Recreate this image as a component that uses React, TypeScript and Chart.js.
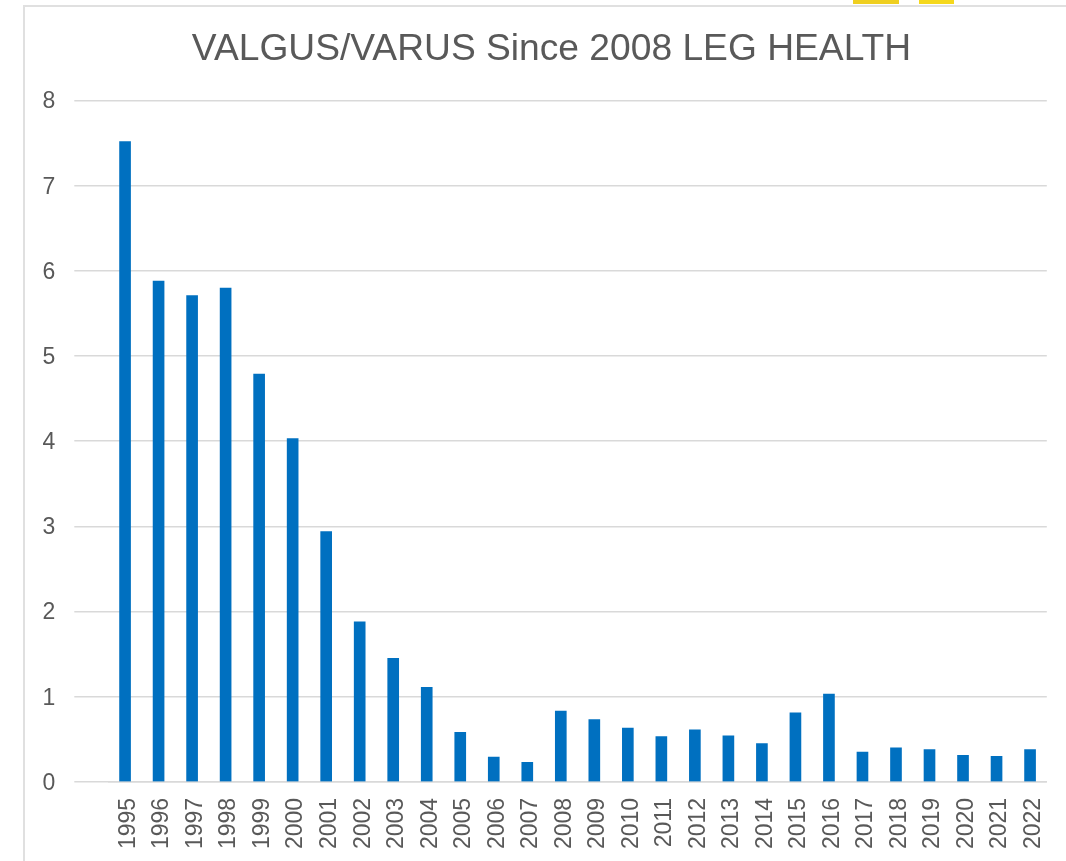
import React, { useEffect, useRef } from "react";
import { Chart, registerables } from "chart.js";

Chart.register(...registerables);

const categories = ["1995","1996","1997","1998","1999","2000","2001","2002","2003","2004","2005","2006","2007","2008","2009","2010","2011","2012","2013","2014","2015","2016","2017","2018","2019","2020","2021","2022"];
const values = [7.52,5.88,5.71,5.8,4.79,4.03,2.94,1.88,1.45,1.11,0.58,0.29,0.23,0.83,0.73,0.63,0.53,0.61,0.54,0.45,0.81,1.03,0.35,0.4,0.38,0.31,0.3,0.38];
const yTicks = [0,1,2,3,4,5,6,7,8];
const titleText = "VALGUS/VARUS Since 2008 LEG HEALTH";

export default function App() {
  const ref = useRef<HTMLCanvasElement>(null);
  useEffect(() => {
    const chart = new Chart(ref.current!, {
      type: "bar",
      data: { labels: categories, datasets: [{ data: values, backgroundColor: "#0070C0", barThickness: 11 }] },
      options: {
        animation: false,
        responsive: false,
        layout: { padding: { left: 56, right: 19, top: 0, bottom: 4 } },
        plugins: {
          legend: { display: false },
          tooltip: { enabled: false },
          title: { display: true, text: titleText, color: "#595959", font: { family: "Liberation Sans", size: 37.2, weight: "normal" }, padding: { top: 27, bottom: 29 } },
        },
        scales: {
          x: {
            grid: { display: false },
            border: { color: "#D9D9D9", width: 1.5 },
            ticks: { color: "#595959", font: { family: "Liberation Sans", size: 23 }, maxRotation: 90, minRotation: 90, autoSkip: false, padding: 8, labelOffset: 3.5 },
          },
          y: {
            min: 0, max: 8,
            afterBuildTicks: (s: any) => { s.ticks = yTicks.map((v) => ({ value: v })); },
            afterFit: (s: any) => {
              s.width = 52.3;
              // The narrowed box would otherwise clip the tick labels.
              s._computeLabelArea = () => undefined;
            },
            grid: { color: "#D9D9D9", lineWidth: 1.5, drawTicks: true, tickLength: 34 },
            border: { display: false },
            ticks: { color: "#595959", font: { family: "Liberation Sans", size: 23 }, padding: 19, labelOffset: 1.5 },
          },
        },
      },
    });
    return () => chart.destroy();
  }, []);
  return (
    <div style={{ position: "fixed", left: 0, top: 0, width: 1066, height: 861, background: "#fff", overflow: "hidden" }}>
      <canvas ref={ref} width={1066} height={861} style={{ display: "block" }} />
      <div style={{ position: "absolute", left: 23, top: 5, width: 1043, height: 2, background: "#E0E0E0" }} />
      <div style={{ position: "absolute", left: 23, top: 5, width: 2, height: 856, background: "#E0E0E0" }} />
      <div style={{ position: "absolute", left: 853, top: 0, width: 46, height: 4, background: "#EFCF20" }} />
      <div style={{ position: "absolute", left: 919, top: 0, width: 35, height: 4, background: "#F5D81C" }} />
    </div>
  );
}
